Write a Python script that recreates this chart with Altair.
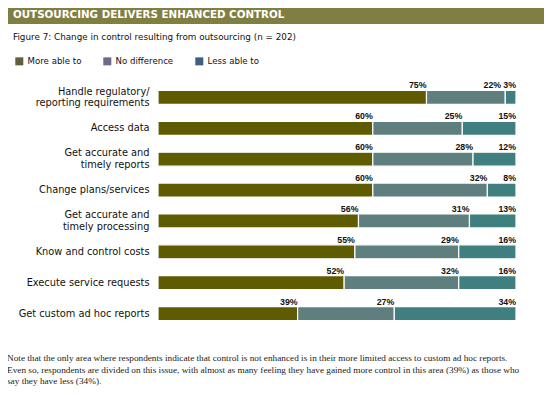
import altair as alt
import pandas as pd

title_text = "OUTSOURCING DELIVERS ENHANCED CONTROL"
subtitle_text = "Figure 7: Change in control resulting from outsourcing (n = 202)"
footnote_lines = [
    "Note that the only area where respondents indicate that control is not enhanced is in their more limited access to custom ad hoc reports.",
    "Even so, respondents are divided on this issue, with almost as many feeling they have gained more control in this area (39%) as those who",
    "say they have less (34%).",
]

categories = [
    "Handle regulatory/\nreporting requirements",
    "Access data",
    "Get accurate and\ntimely reports",
    "Change plans/services",
    "Get accurate and\ntimely processing",
    "Know and control costs",
    "Execute service requests",
    "Get custom ad hoc reports",
]
series = ["More able to", "No difference", "Less able to"]
more_able = [75, 60, 60, 60, 56, 55, 52, 39]
no_difference = [22, 25, 28, 32, 31, 29, 32, 27]
less_able = [3, 15, 12, 8, 13, 16, 16, 34]

bar_colors = ["#5e5b00", "#5f7f7e", "#3f7f7f"]
legend_colors = ["#60603f", "#6b6a87", "#3f5f7f"]

PLOT_W = 358
rows = []
for i, cat in enumerate(categories):
    vals = [more_able[i], no_difference[i], less_able[i]]
    ends = [sum(vals[:k + 1]) for k in range(3)]
    for k, s in enumerate(series):
        v = vals[k]
        label = f"{v}%"
        # keep a label clear of the next segment's label
        lx = ends[k]
        if k < 2:
            nxt = f"{vals[k + 1]}%"
            need = (4.9 * (len(nxt) - 1) + 8 + 2) / PLOT_W * 100
            lx = min(ends[k], ends[k + 1] - need)
        rows.append({"category": cat, "series": s, "value": v,
                     "start": ends[k] - v, "end": ends[k], "label": label, "lx": lx})
df = pd.DataFrame(rows)

cat_rows = []
for cat in categories:
    parts = cat.split("\n")
    for j, p in enumerate(parts):
        cat_rows.append({"category": cat, "line": p, "n": len(parts), "j": j})
cat_df = pd.DataFrame(cat_rows)

xscale = alt.Scale(domain=[0, 100], nice=False, zero=True)
yscale = alt.Scale(paddingInner=0.5463, paddingOuter=0.2732)

bars = alt.Chart(df).mark_bar(stroke="white", strokeWidth=1.2).encode(
    x=alt.X("start:Q", scale=xscale, axis=None),
    x2="end:Q",
    y=alt.Y("category:N", sort=categories, scale=yscale, axis=None),
    color=alt.Color("series:N", scale=alt.Scale(domain=series, range=bar_colors), legend=None),
)

labels = alt.Chart(df).mark_text(
    align="right", baseline="alphabetic", dy=-9,
    font="Liberation Sans", fontWeight="bold", fontSize=8.8, color="#111111",
).encode(
    x=alt.X("lx:Q", scale=xscale, axis=None),
    y=alt.Y("category:N", sort=categories),
    text="label:N",
)


def cat_layer(filt, dy):
    return alt.Chart(cat_df).transform_filter(filt).mark_text(
        align="right", baseline="middle", dy=dy,
        font="DejaVu Sans", fontSize=9.8, color="#111111",
    ).encode(
        x=alt.value(-8.5),
        y=alt.Y("category:N", sort=categories),
        text="line:N",
    )


cat_single = cat_layer("datum.n == 1", 0)
cat_first = cat_layer("datum.n == 2 && datum.j == 0", -5.85)
cat_second = cat_layer("datum.n == 2 && datum.j == 1", 5.85)

legend_layer = alt.Chart(pd.DataFrame({"series": series})).mark_square(opacity=0).encode(
    fill=alt.Fill("series:N", scale=alt.Scale(domain=series, range=legend_colors),
                  legend=alt.Legend(title=None, orient="none", legendX=-143, legendY=-25,
                                    direction="horizontal", symbolType="square",
                                    symbolSize=64, symbolOpacity=1, symbolStrokeWidth=0,
                                    labelFont="DejaVu Sans", labelFontSize=8.6,
                                    labelColor="#111111", labelOffset=4,
                                    columnPadding=21, padding=0)),
)

banner = alt.Chart(pd.DataFrame({"t": [title_text]})).mark_rect(color="#817e42").encode(
    x=alt.value(-153), x2=alt.value(386), y=alt.value(-79), y2=alt.value(-58),
)
title = alt.Chart(pd.DataFrame({"t": [title_text]})).mark_text(
    align="left", baseline="alphabetic", font="DejaVu Sans", fontWeight="bold",
    fontSize=10.3, color="white",
).encode(x=alt.value(-145), y=alt.value(-64.5), text="t:N")

subtitle = alt.Chart(pd.DataFrame({"t": [subtitle_text]})).mark_text(
    align="left", baseline="alphabetic", font="DejaVu Sans", fontSize=8.8, color="#111111",
).encode(x=alt.value(-145), y=alt.value(-42), text="t:N")

footnote = alt.Chart(pd.DataFrame({"t": ["\n".join(footnote_lines)]})).mark_text(
    align="left", baseline="alphabetic", font="Liberation Serif", fontSize=9.25,
    color="#222222", lineBreak="\n", lineHeight=11.7,
).encode(x=alt.value(-151), y=alt.value(279), text="t:N")

chart = alt.layer(banner, title, subtitle, legend_layer, bars, labels,
                  cat_single, cat_first, cat_second, footnote).properties(
    width=PLOT_W, height=247,
    autosize=alt.AutoSizeParams(type="none"),
    padding={"left": 150, "top": 74, "right": 28, "bottom": 58},
).configure_view(stroke=None)

chart.save("out.html", embed_options={"renderer": "svg", "actions": False})
